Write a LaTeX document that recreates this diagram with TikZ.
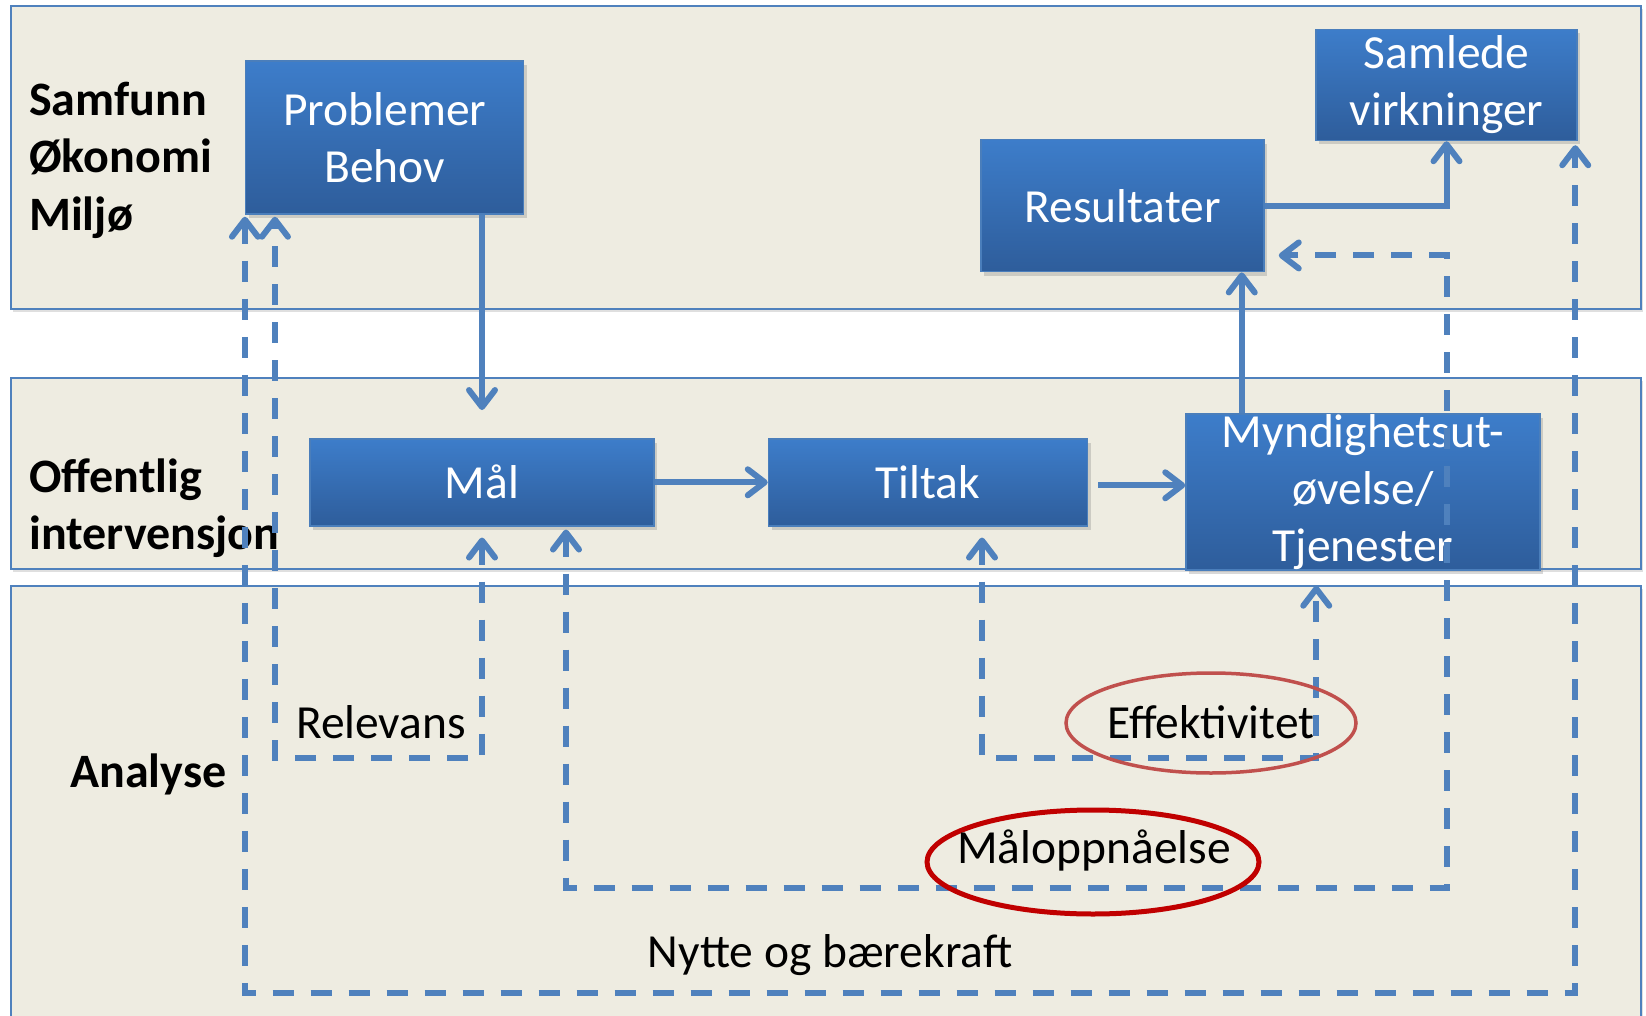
\documentclass[tikz,border=0pt]{standalone}
\usepackage{fontspec}
\setmainfont{Carlito}
\usetikzlibrary{arrows.meta,shadows,shapes.geometric}
\definecolor{bandfill}{RGB}{238,236,225}
\definecolor{bandline}{RGB}{79,129,189}
\definecolor{connblue}{RGB}{79,129,189}
\definecolor{boxtop}{RGB}{61,125,202}
\definecolor{boxbot}{RGB}{46,93,155}
\definecolor{boxline}{RGB}{74,126,187}
\definecolor{ellA}{RGB}{192,80,77}
\definecolor{ellB}{RGB}{192,0,0}
\begin{document}
\begin{tikzpicture}[x=1pt,y=-1pt,
  band/.style={draw=bandline, line width=2pt, fill=bandfill,
    drop shadow={shadow xshift=2pt, shadow yshift=-3pt, opacity=0.25}},
  bluebox/.style={rectangle, draw=boxline, line width=1.5pt, top color=boxtop, bottom color=boxbot,
    text=white, font=\fontsize{47.5}{57}\selectfont, align=center, inner sep=0pt,
    drop shadow={shadow xshift=3pt, shadow yshift=-4pt, opacity=0.3}},
  sidelbl/.style={font=\fontsize{48}{57.5}\selectfont\bfseries, align=left, anchor=west, inner sep=0pt},
  txt/.style={font=\fontsize{47.5}{57}\selectfont, inner sep=0pt},
  conn/.style={draw=connblue, line width=6pt, -{Straight Barb[round,length=17pt,width=26pt]}},
  dconn/.style={draw=connblue, line width=6pt, dash pattern=on 21pt off 17pt,
    {Straight Barb[round,length=17pt,width=26pt]}-{Straight Barb[round,length=17pt,width=26pt]}},
  ellipsebox/.style={ellipse, inner sep=0pt, fill=none}
]
\useasboundingbox (0,0) rectangle (1646,1016);
\fill[white] (0,0) rectangle (1646,1016);

% bands
\draw[band] (10.5,6) rectangle (1641,308.6);
\draw[band] (10.5,378) rectangle (1641,569);
\draw[band] (10.5,586) rectangle (1641,1040);

% side labels
\node[sidelbl] (soc) at (29,160) {Samfunn\\Økonomi\\Miljø};
\node[sidelbl] (off) at (29,508) {Offentlig\\intervensjon};
\node[sidelbl] (ana) at (70,774) {Analyse};

% boxes
\node[bluebox, minimum width=278pt, minimum height=153pt] (prob) at (384.7,137.5) {Problemer\\Behov};
\node[bluebox, minimum width=261pt, minimum height=111pt] (sam) at (1446.5,85) {Samlede\\virkninger};
\node[bluebox, minimum width=283pt, minimum height=132pt] (res) at (1122.5,205.7) {Resultater};
\node[bluebox, minimum width=344pt, minimum height=87pt] (mal) at (482,482.3) {Mål};
\node[bluebox, minimum width=319pt, minimum height=87pt] (tiltak) at (928,482.3) {Tiltak};
\node[bluebox, minimum width=354pt, minimum height=156pt] (myn) at (1363,492) {Myndighetsut-\\øvelse/\\Tjenester};

% solid connectors
\draw[conn] (prob.south -| mal.north) -- ([yshift=28pt]mal.north);
\draw[conn] (mal.east) -- (tiltak.west);
\draw[conn] ([xshift=10pt,yshift=-3pt]tiltak.east) -- ([yshift=-3pt]tiltak.east -| myn.west);
\coordinate (resx) at ([xshift=-23pt]res.south east);
\draw[conn] (resx |- myn.north) -- (resx);
\draw[conn] (res.east) -| (sam.south);

% dashed loops
\draw[dconn] ([yshift=-11pt]mal.south) -- ++(0,220) -| ([xshift=30pt,yshift=-2pt]prob.south west);
\draw[dconn] ([xshift=54pt,yshift=-11pt]tiltak.south) -- ++(0,220) -| ([xshift=131pt,yshift=-15pt]myn.south west);
\coordinate (mo1) at (sam.south |- 0,888);
\draw[dconn] ([xshift=84pt,yshift=-3pt]mal.south) |- (mo1) |- ([xshift=14pt,yshift=17pt]res.south east);
\coordinate (samr) at ([xshift=-2.5pt,yshift=-4pt]sam.south east);
\coordinate (ny1) at (samr |- 0,993);
\draw[dconn] ([yshift=-2pt]prob.south west) |- (ny1) -- (samr);

% ellipses
\node[ellipsebox, draw=ellA, line width=3.5pt, minimum width=290pt, minimum height=100pt] (effell) at (1211,723) {};
\node[ellipsebox, draw=ellB, line width=5pt, minimum width=332pt, minimum height=104pt] (maell) at (1093,862) {};

% labels
\node[txt] (rel) at (381,722) {Relevans};
\node[txt] (eff) at (1211,722) {Effektivitet};
\node[txt] (mao) at (1094,850) {Måloppnåelse};
\node[txt] (nyt) at (830,955) {Nytte og bærekraft};
\end{tikzpicture}
\end{document}
